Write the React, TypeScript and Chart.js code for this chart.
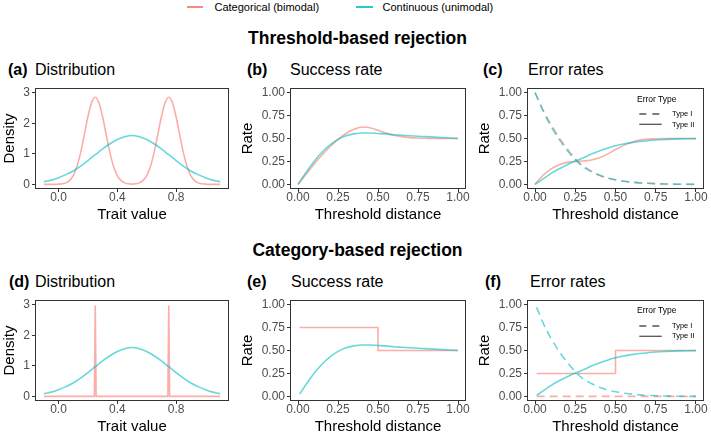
import React, { useEffect, useRef } from "react";
import { Chart, registerables } from "chart.js";

Chart.register(...registerables);

const FONT = "'Liberation Sans', Arial, Helvetica, sans-serif";
const RED_KEY = "rgba(248, 118, 109, 0.85)";
const TEAL_KEY = "rgba(0, 191, 196, 0.85)";
const RED = "rgba(248, 118, 109, 0.6)";
const TEAL = "rgba(0, 191, 196, 0.6)";
const INK = "#333333";
const TICK_TEXT = "#4D4D4D";

// ---- Trait distributions ----
const traitGridFine = [
  -0.1, -0.075, -0.05, -0.025, 0, 0.025, 0.05, 0.075, 0.1, 0.125, 0.15, 0.175, 0.2, 0.225, 0.25,
  0.275, 0.3, 0.325, 0.35, 0.375, 0.4, 0.425, 0.45, 0.475, 0.5, 0.525, 0.55, 0.575, 0.6, 0.625,
  0.65, 0.675, 0.7, 0.725, 0.75, 0.775, 0.8, 0.825, 0.85, 0.875, 0.9, 0.925, 0.95, 0.975, 1.0,
  1.025, 1.05, 1.075, 1.1,
];
const bimodalDensity = [
  0, 0, 0, 0, 0.01, 0.02, 0.05, 0.13, 0.29, 0.58, 1.03, 1.61, 2.21, 2.67, 2.85,
  2.67, 2.21, 1.61, 1.03, 0.58, 0.29, 0.13, 0.05, 0.02, 0.01, 0.02, 0.05, 0.13, 0.29, 0.58,
  1.03, 1.61, 2.21, 2.67, 2.85, 2.67, 2.21, 1.61, 1.03, 0.58, 0.29, 0.13, 0.05, 0.02, 0.01,
  0, 0, 0, 0,
];
const traitGrid = [
  -0.1, -0.05, 0, 0.05, 0.1, 0.15, 0.2, 0.25, 0.3, 0.35, 0.4, 0.45, 0.5, 0.55, 0.6, 0.65, 0.7,
  0.75, 0.8, 0.85, 0.9, 0.95, 1.0, 1.05, 1.1,
];
const unimodalDensity = [
  0.09, 0.14, 0.22, 0.32, 0.44, 0.6, 0.78, 0.97, 1.16, 1.33, 1.47, 1.56, 1.6, 1.56, 1.47, 1.33,
  1.16, 0.97, 0.78, 0.6, 0.44, 0.32, 0.22, 0.14, 0.09,
];
const spikeTraits = [-0.1, 0.244, 0.25, 0.256, 0.744, 0.75, 0.756, 1.1];
const spikeDensity = [0, 0, 2.95, 0, 0, 2.95, 0, 0];

// ---- Threshold-based rejection ----
const thresholds = [
  0, 0.05, 0.1, 0.15, 0.2, 0.25, 0.3, 0.35, 0.4, 0.45, 0.5, 0.55, 0.6, 0.65, 0.7, 0.75, 0.8, 0.85,
  0.9, 0.95, 1.0,
];
const successBimodal = [
  0, 0.11, 0.22, 0.32, 0.41, 0.49, 0.555, 0.6, 0.625, 0.618, 0.59, 0.56, 0.535, 0.52, 0.51, 0.505,
  0.502, 0.5, 0.5, 0.5, 0.5,
];
const successUnimodal = [
  0, 0.13, 0.25, 0.35, 0.43, 0.49, 0.53, 0.55, 0.56, 0.56, 0.555, 0.55, 0.54, 0.535, 0.53, 0.525,
  0.52, 0.515, 0.51, 0.505, 0.5,
];
const typeIBimodal = [
  1.0, 0.81, 0.65, 0.51, 0.39, 0.28, 0.2, 0.145, 0.1, 0.07, 0.05, 0.035, 0.025, 0.017, 0.012, 0.008,
  0.005, 0.003, 0.002, 0.001, 0,
];
const typeIUnimodal = [
  1.0, 0.8, 0.63, 0.49, 0.37, 0.27, 0.19, 0.14, 0.1, 0.07, 0.05, 0.035, 0.025, 0.017, 0.012, 0.008,
  0.005, 0.003, 0.002, 0.001, 0,
];
const typeIIBimodal = [
  0, 0.1, 0.17, 0.215, 0.24, 0.25, 0.255, 0.265, 0.29, 0.33, 0.38, 0.425, 0.46, 0.482, 0.493,
  0.497, 0.499, 0.5, 0.5, 0.5, 0.5,
];
const typeIIUnimodal = [
  0, 0.06, 0.12, 0.17, 0.215, 0.255, 0.29, 0.33, 0.365, 0.395, 0.42, 0.44, 0.455, 0.467, 0.476,
  0.483, 0.489, 0.493, 0.496, 0.498, 0.499,
];

// ---- Category-based rejection ----
const catThresholds = [
  0.01, 0.05, 0.1, 0.15, 0.2, 0.25, 0.3, 0.35, 0.4, 0.45, 0.5, 0.55, 0.6, 0.65, 0.7, 0.75, 0.8,
  0.85, 0.9, 0.95, 1.0,
];
const catSuccessUnimodal = [0.025, ...successUnimodal.slice(1)];
const catTypeIUnimodal = [0.97, ...typeIUnimodal.slice(1)];
const catTypeIIUnimodal = [0.012, ...typeIIUnimodal.slice(1)];
const stepThresholds = [0.01, 0.5, 0.5, 1.0];
const catSuccessBimodal = [0.75, 0.75, 0.5, 0.5];
const catTypeIIBimodal = [0.25, 0.25, 0.5, 0.5];
const flatThresholds = [0.01, 1.0];
const catTypeIBimodal = [0, 0];

// ---- Axis ticks ----
const traitTicks = [0, 0.4, 0.8];
const densityTicks = [0, 1, 2, 3];
const rateTicks = [0, 0.25, 0.5, 0.75, 1];

type Line = { xs: number[]; ys: number[]; color: string; dashed?: boolean; smooth?: boolean };

type PanelSpec = {
  left: number;
  top: number;
  width: number;
  height: number;
  padTop: number;
  padRight: number;
  yAxisWidth: number;
  xAxisHeight: number;
  xRange: [number, number];
  xTicks: number[];
  xDigits: number;
  xTitle: string;
  yRange: [number, number];
  yTicks: number[];
  yDigits: number;
  yTitle: string;
  yTitlePad: number;
  lines: Line[];
};

// Full box around the plotting area
const framePlugin = {
  id: "panelFrame",
  afterDatasetsDraw(chart: any) {
    const { ctx, chartArea: a } = chart;
    ctx.save();
    ctx.strokeStyle = INK;
    ctx.lineWidth = 1;
    const l = Math.round(a.left) + 0.5;
    const t = Math.round(a.top) + 0.5;
    const r = Math.round(a.right) - 0.5;
    const b = Math.round(a.bottom) - 0.5;
    ctx.strokeRect(l, t, r - l, b - t);
    ctx.restore();
  },
};

function buildConfig(s: PanelSpec): any {
  const tickFont = { family: FONT, size: 12, lineHeight: 1 };
  const titleFont = { family: FONT, size: 15, lineHeight: 1.2 };
  const grid = {
    display: true,
    drawOnChartArea: false,
    drawTicks: true,
    tickLength: 3,
    color: INK,
    lineWidth: 1,
  };
  return {
    type: "line",
    data: {
      datasets: s.lines.map((l) => ({
        data: l.xs.map((x, i) => ({ x, y: l.ys[i] })),
        borderColor: l.color,
        borderWidth: 1.6,
        borderDash: l.dashed ? [8, 5] : [],
        borderCapStyle: "butt",
        borderJoinStyle: "round",
        pointRadius: 0,
        fill: false,
        tension: 0,
        cubicInterpolationMode: l.smooth ? "monotone" : "default",
      })),
    },
    options: {
      responsive: false,
      animation: false,
      devicePixelRatio: 1,
      events: [],
      layout: { padding: { top: s.padTop, right: s.padRight, left: 0, bottom: 0 } },
      plugins: {
        legend: { display: false },
        tooltip: { enabled: false },
        title: { display: false },
      },
      scales: {
        x: {
          type: "linear",
          position: "bottom",
          min: s.xRange[0],
          max: s.xRange[1],
          afterBuildTicks: (sc: any) => {
            sc.ticks = s.xTicks.map((v) => ({ value: v }));
          },
          afterFit: (sc: any) => {
            sc.height = s.xAxisHeight;
          },
          grid,
          border: { display: false },
          ticks: {
            autoSkip: false,
            maxRotation: 0,
            padding: 0,
            color: TICK_TEXT,
            font: tickFont,
            callback: (v: any) => Number(v).toFixed(s.xDigits),
          },
          title: {
            display: true,
            text: s.xTitle,
            color: "#000",
            font: titleFont,
            padding: { top: 0, bottom: 1 },
          },
        },
        y: {
          type: "linear",
          position: "left",
          min: s.yRange[0],
          max: s.yRange[1],
          afterBuildTicks: (sc: any) => {
            sc.ticks = s.yTicks.map((v) => ({ value: v }));
          },
          afterFit: (sc: any) => {
            sc.width = s.yAxisWidth;
          },
          grid,
          border: { display: false },
          ticks: {
            autoSkip: false,
            padding: 2,
            color: TICK_TEXT,
            font: tickFont,
            callback: (v: any) => Number(v).toFixed(s.yDigits),
          },
          title: {
            display: true,
            text: s.yTitle,
            color: "#000",
            font: titleFont,
            padding: { top: s.yTitlePad, bottom: 0 },
          },
        },
      },
    },
    plugins: [framePlugin],
  };
}

function Panel({ spec }: { spec: PanelSpec }) {
  const ref = useRef<HTMLCanvasElement>(null);
  useEffect(() => {
    const chart = new Chart(ref.current as HTMLCanvasElement, buildConfig(spec));
    return () => chart.destroy();
  }, [spec]);
  return (
    <canvas
      ref={ref}
      width={spec.width}
      height={spec.height}
      style={{
        position: "absolute",
        left: spec.left,
        top: spec.top,
        width: spec.width,
        height: spec.height,
      }}
    />
  );
}

type TextProps = {
  x?: number;
  cx?: number;
  cy: number;
  size: number;
  bold?: boolean;
  color?: string;
  children: React.ReactNode;
};

function Text({ x, cx, cy, size, bold, color, children }: TextProps) {
  return (
    <div
      style={{
        position: "absolute",
        left: cx !== undefined ? cx : x,
        top: cy - size / 2,
        transform: cx !== undefined ? "translateX(-50%)" : undefined,
        fontSize: size,
        lineHeight: `${size}px`,
        fontWeight: bold ? 700 : 400,
        whiteSpace: "nowrap",
        color: color || "#000",
      }}
    >
      {children}
    </div>
  );
}

function PanelTitle({ tagX, x, cy, tag, title }: { tagX: number; x: number; cy: number; tag: string; title: string }) {
  return (
    <>
      <Text x={tagX} cy={cy} size={16} bold>
        {tag}
      </Text>
      <Text x={x} cy={cy} size={16}>
        {title}
      </Text>
    </>
  );
}

function ErrorLegend({ dy }: { dy: number }) {
  return (
    <>
      <Text x={637} cy={99 + dy} size={8.5}>
        Error Type
      </Text>
      <svg
        width={26}
        height={20}
        style={{ position: "absolute", left: 638, top: 108 + dy }}
      >
        <line x1={1.3} x2={23.7} y1={6} y2={6} stroke="#555" strokeWidth={1.3} strokeDasharray="7 6" />
        <line x1={1.3} x2={23.7} y1={16.3} y2={16.3} stroke="#555" strokeWidth={1.3} />
      </svg>
      <Text x={672} cy={114 + dy} size={7.5}>
        Type I
      </Text>
      <Text x={672} cy={124.3 + dy} size={7.5}>
        Type II
      </Text>
    </>
  );
}

const ROW_TOP = [80, 292];
const COLS = [
  { left: 0, width: 232, padRight: 3, yAxisWidth: 35, yTitlePad: 1 },
  { left: 239, width: 235, padRight: 8, yAxisWidth: 51, yTitlePad: 0 },
  { left: 476, width: 235, padRight: 7, yAxisWidth: 51, yTitlePad: 0 },
];

function spec(row: number, col: number, kind: "dist" | "rate", lines: Line[]): PanelSpec {
  const c = COLS[col];
  const base = {
    left: c.left,
    top: ROW_TOP[row],
    width: c.width,
    height: 145,
    padTop: 6,
    padRight: c.padRight,
    yAxisWidth: c.yAxisWidth,
    xAxisHeight: 36,
    yTitlePad: c.yTitlePad,
    lines,
  };
  if (kind === "dist") {
    return {
      ...base,
      xRange: [-0.16, 1.16],
      xTicks: traitTicks,
      xDigits: 1,
      xTitle: "Trait value",
      yRange: [-0.15, 3.15],
      yTicks: densityTicks,
      yDigits: 0,
      yTitle: "Density",
    };
  }
  return {
    ...base,
    xRange: [-0.05, 1.05],
    xTicks: rateTicks,
    xDigits: 2,
    xTitle: "Threshold distance",
    yRange: [-0.05, 1.05],
    yTicks: rateTicks,
    yDigits: 2,
    yTitle: "Rate",
  };
}

const panels: PanelSpec[] = [
  spec(0, 0, "dist", [
    { xs: traitGrid, ys: unimodalDensity, color: TEAL, smooth: true },
    { xs: traitGridFine, ys: bimodalDensity, color: RED, smooth: true },
  ]),
  spec(0, 1, "rate", [
    { xs: thresholds, ys: successUnimodal, color: TEAL, smooth: true },
    { xs: thresholds, ys: successBimodal, color: RED, smooth: true },
  ]),
  spec(0, 2, "rate", [
    { xs: thresholds, ys: typeIUnimodal, color: TEAL, dashed: true, smooth: true },
    { xs: thresholds, ys: typeIIUnimodal, color: TEAL, smooth: true },
    { xs: thresholds, ys: typeIBimodal, color: RED, dashed: true, smooth: true },
    { xs: thresholds, ys: typeIIBimodal, color: RED, smooth: true },
  ]),
  spec(1, 0, "dist", [
    { xs: traitGrid, ys: unimodalDensity, color: TEAL, smooth: true },
    { xs: spikeTraits, ys: spikeDensity, color: RED },
  ]),
  spec(1, 1, "rate", [
    { xs: catThresholds, ys: catSuccessUnimodal, color: TEAL, smooth: true },
    { xs: stepThresholds, ys: catSuccessBimodal, color: RED },
  ]),
  spec(1, 2, "rate", [
    { xs: catThresholds, ys: catTypeIUnimodal, color: TEAL, dashed: true, smooth: true },
    { xs: catThresholds, ys: catTypeIIUnimodal, color: TEAL, smooth: true },
    { xs: flatThresholds, ys: catTypeIBimodal, color: RED, dashed: true },
    { xs: stepThresholds, ys: catTypeIIBimodal, color: RED },
  ]),
];

export default function App() {
  return (
    <div
      style={{
        position: "absolute",
        left: 0,
        top: 0,
        width: 711,
        height: 438,
        background: "#fff",
        fontFamily: FONT,
        color: "#000",
        overflow: "hidden",
      }}
    >
      {/* Colour legend */}
      <div style={{ position: "absolute", left: 187, top: 6, width: 16, height: 2, background: RED_KEY }} />
      <Text x={214.5} cy={7.5} size={11}>
        Categorical (bimodal)
      </Text>
      <div style={{ position: "absolute", left: 356, top: 6, width: 17, height: 2, background: TEAL_KEY }} />
      <Text x={382.5} cy={7.5} size={11}>
        Continuous (unimodal)
      </Text>

      <Text cx={357.5} cy={38.5} size={17.5} bold>
        Threshold-based rejection
      </Text>
      <Text cx={357.5} cy={251} size={17.5} bold>
        Category-based rejection
      </Text>

      <PanelTitle tagX={8} x={35} cy={70} tag="(a)" title="Distribution" />
      <PanelTitle tagX={247} x={290} cy={70} tag="(b)" title="Success rate" />
      <PanelTitle tagX={483} x={528} cy={70} tag="(c)" title="Error rates" />
      <PanelTitle tagX={9} x={35} cy={282} tag="(d)" title="Distribution" />
      <PanelTitle tagX={247} x={291} cy={282} tag="(e)" title="Success rate" />
      <PanelTitle tagX={485} x={530} cy={282} tag="(f)" title="Error rates" />

      {panels.map((p, i) => (
        <Panel key={i} spec={p} />
      ))}

      <ErrorLegend dy={0} />
      <ErrorLegend dy={211.7} />
    </div>
  );
}
